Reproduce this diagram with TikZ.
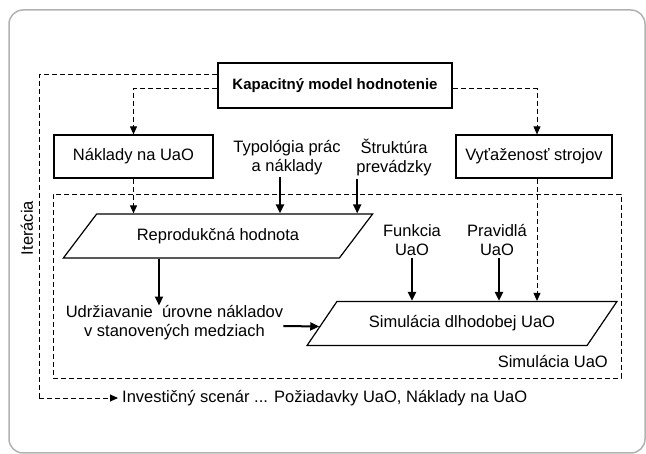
\documentclass[tikz,border=0pt]{standalone}
\usepackage{fontspec}
\setmainfont{Liberation Sans}
\usetikzlibrary{arrows.meta,shapes.geometric}

\tikzset{
  box/.style={draw,line width=1.2pt,minimum height=43pt,inner sep=0pt},
  para/.style={draw,line width=1.2pt,trapezium,trapezium left angle=35,
    trapezium right angle=145,trapezium stretches,minimum width=310pt,
    minimum height=44pt,inner sep=0pt},
  txt/.style={align=center,inner sep=2pt},
  flow/.style={-{Triangle[length=9pt,width=8pt]},line width=2pt},
  dflow/.style={-{Triangle[length=8pt,width=7pt]},line width=0.9pt,dash pattern=on 5pt off 3pt},
  dline/.style={line width=0.9pt,dash pattern=on 5pt off 3pt},
}

\begin{document}
\begin{tikzpicture}[x=1pt,y=-1pt,font=\fontsize{16.5}{19}\selectfont]
\useasboundingbox (0,0) rectangle (646,454);
\draw[black!30,line width=1.5pt,rounded corners=14pt] (9,10) rectangle (645,453);

% inner area
\node[draw,dline,minimum width=568pt,minimum height=184pt] (simarea) at (337,286) {};
\node[anchor=east,inner sep=0pt] (simlabel) at (608,362) {Simulácia UaO};

% top row
\node[box,line width=2.6pt,minimum width=234pt,minimum height=45pt,
  font=\fontsize{15}{18}\selectfont\bfseries] (model) at (335,85.5) {Kapacitný model hodnotenie};
\node[box,minimum width=159pt] (naklady) at (133.5,156.5) {Náklady na UaO};
\node[box,minimum width=156pt] (vytaz) at (534,156.5) {Vyťaženosť strojov};
\node[txt] (typ) at (287,158) {Typológia prác\\a náklady};
\node[txt] (strukt) at (394,158) {Štruktúra\\prevádzky};

% parallelograms
\node[para] (repro) at (218,236) {Reprodukčná hodnota};
\node[para] (sim) at (462,323.5) {Simulácia dlhodobej UaO};

\node[txt] (funk) at (412,240) {Funkcia\\UaO};
\node[txt] (prav) at (497,240) {Pravidlá\\UaO};
\node[txt,inner sep=0pt] (udrz) at (174.5,323) {Udržiavanie~ úrovne nákladov\\v stanovených medziach};

\node[rotate=90] (iter) at (27,228) {Iterácia};
\node[anchor=west,inner sep=4pt] (invest) at (118,398) {Investičný scenár ... Požiadavky UaO, Náklady na UaO};
\coordinate (loop) at (39,398);

% dashed links
\draw[dline] ([yshift=11pt]model.west) -| (loop);
\draw[dflow] (loop) -- (invest.west);
\draw[dflow] ([yshift=-3pt]model.west) -| (naklady.north);
\draw[dflow] ([yshift=-3pt]model.east) -| ([xshift=3pt]vytaz.north);
\draw[dflow] (naklady.south) -- (naklady.south |- repro.north);
\draw[dflow] ([xshift=3pt]vytaz.south) -- ([xshift=3pt]vytaz.south |- sim.north);

% solid links
\draw[flow] ([xshift=-7pt]typ.south) -- ([xshift=-7pt]typ.south |- repro.north);
\draw[flow] ([xshift=3pt]strukt.south west) -- ([xshift=3pt]strukt.south west |- repro.north);
\draw[flow] ([xshift=-59pt]repro.south) -- ([xshift=-59pt]repro.south |- udrz.north);
\draw[flow] ([yshift=-3pt]udrz.east) -- ([xshift=-2pt,yshift=-3pt]sim.west);
\draw[flow] (funk.south) -- (funk.south |- sim.north);
\draw[flow] ([xshift=2pt]prav.south) -- ([xshift=2pt]prav.south |- sim.north);
\end{tikzpicture}
\end{document}
